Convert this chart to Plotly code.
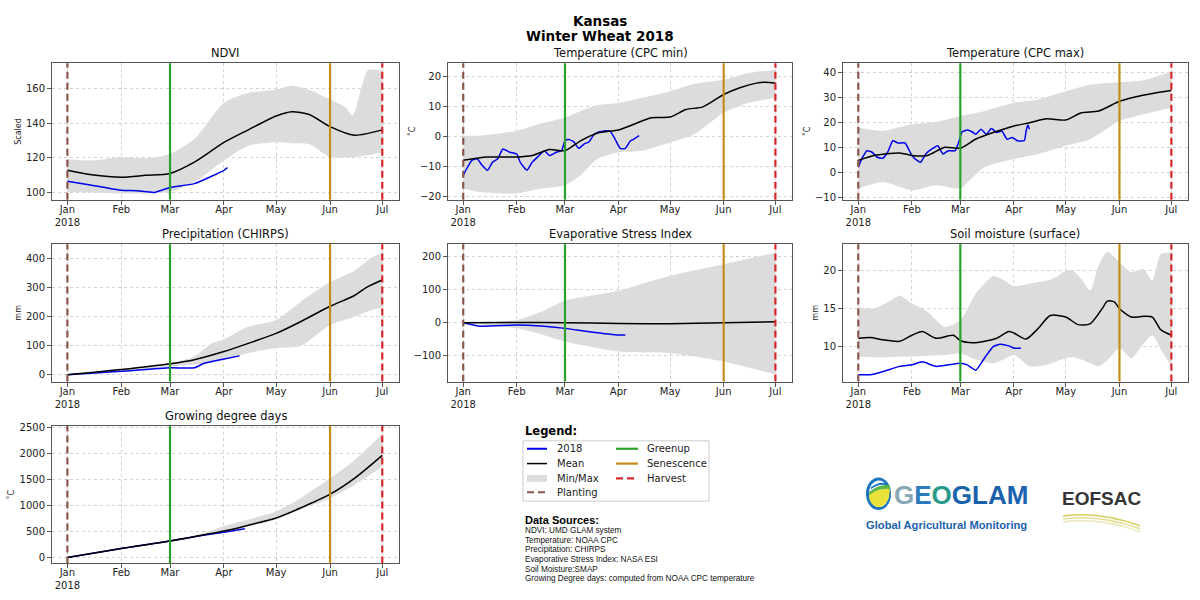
import plotly.graph_objects as go

# ---------------- DATA ----------------
YEAR = "2018-"
month_ticks = ["01-01", "02-01", "03-01", "04-01", "05-01", "06-01", "07-01"]
month_labels = ["Jan<br>2018", "Feb", "Mar", "Apr", "May", "Jun", "Jul"]

planting_date = "01-01"
greenup_date = "03-01"
senescence_date = "06-01"
harvest_date = "07-01"

# NDVI
ndvi_band_dates = ["01-01", "01-15", "02-01", "02-15", "03-01", "03-15", "04-01", "04-15", "05-01", "05-10", "05-20", "06-01", "06-10", "06-14", "06-23", "07-01"]
ndvi_max = [119.4, 118.5, 120.4, 119.8, 122.3, 130.9, 151.8, 157.5, 159.4, 161.7, 159.4, 153.7, 149.0, 144.5, 170.9, 169.9]
ndvi_min = [100.4, 100.0, 99.4, 99.4, 100.4, 106.0, 118.5, 127.0, 129.0, 128.5, 128.0, 120.4, 120.4, 120.4, 121.5, 123.2]
ndvi_mean_dates = ["01-01", "01-15", "02-01", "02-15", "03-01", "03-15", "04-01", "04-15", "05-01", "05-10", "05-20", "06-01", "06-15", "07-01"]
ndvi_mean = [112.8, 110.2, 108.8, 109.9, 111.0, 117.5, 128.9, 136.2, 144.2, 146.7, 145.1, 138.1, 133.1, 136.2]
ndvi_2018_dates = ["01-01", "01-15", "02-01", "02-10", "02-20", "03-01", "03-15", "04-01", "04-03"]
ndvi_2018 = [106.5, 104.2, 101.3, 101.0, 100.0, 102.9, 105.1, 112.8, 114.3]

# Temperature (CPC min)
tmin_band_dates = ["01-01", "01-10", "02-01", "02-15", "03-01", "03-10", "03-20", "04-01", "04-15", "05-01", "05-15", "06-01", "06-15", "07-01"]
tmin_max = [0.3, 0.3, 1.9, 4.4, 6.3, 8.5, 10.5, 11.2, 12.9, 15.1, 17.6, 18.9, 21.1, 22.2]
tmin_min = [-17.3, -18.4, -18.9, -17.3, -16.2, -12.9, -7.4, -5.2, -4.7, -1.9, 0.8, 7.9, 11.2, 12.9]
tmin_mean_dates = ["01-01", "01-15", "02-01", "02-10", "02-20", "03-01", "03-10", "03-20", "04-01", "04-10", "04-20", "05-01", "05-10", "05-20", "06-01", "06-10", "06-20", "06-25", "07-01"]
tmin_mean = [-7.9, -6.8, -6.8, -6.3, -4.3, -4.7, -1.4, 1.2, 2.2, 4.1, 6.3, 6.5, 9.0, 9.9, 14.0, 16.2, 17.8, 18.1, 17.8]
tmin_2018_dates = ["01-01", "01-03", "01-06", "01-09", "01-12", "01-15", "01-18", "01-21", "01-24", "01-28", "02-01", "02-03", "02-07", "02-10", "02-14", "02-17", "02-20", "02-24", "02-27", "03-01", "03-03", "03-06", "03-09", "03-12", "03-15", "03-18", "03-21", "03-24", "03-27", "03-30", "04-02", "04-05", "04-08", "04-10", "04-13"]
tmin_2018 = [-12.9, -10.7, -7.9, -7.4, -9.6, -11.2, -8.5, -7.4, -4.1, -5.2, -5.8, -8.5, -11.2, -8.5, -6.3, -4.7, -6.3, -5.2, -4.7, -1.4, -1.0, -1.7, -3.9, -2.5, -1.7, 0.8, 1.6, 1.9, 1.9, -0.8, -3.9, -3.9, -1.4, -0.8, 0.3]

# Temperature (CPC max)
tmax_band_dates = ["01-01", "01-15", "02-01", "02-15", "03-01", "03-08", "03-15", "04-01", "04-15", "05-01", "05-15", "06-01", "06-15", "07-01"]
tmax_max = [18.0, 16.7, 19.3, 20.2, 22.6, 23.5, 24.6, 27.9, 29.2, 32.5, 35.1, 36.1, 36.9, 40.4]
tmax_min = [-6.5, -3.8, -7.1, -5.1, -6.4, -2.0, 2.1, 5.4, 7.4, 10.7, 13.3, 20.6, 23.3, 25.9]
tmax_mean_dates = ["01-01", "01-10", "01-25", "02-01", "02-10", "02-20", "03-01", "03-10", "03-20", "04-01", "04-10", "04-20", "05-01", "05-10", "05-20", "06-01", "06-10", "06-20", "07-01"]
tmax_mean = [4.8, 6.8, 7.8, 6.8, 6.8, 10.1, 9.7, 13.4, 16.0, 18.6, 19.9, 21.5, 21.0, 23.9, 24.6, 28.5, 30.2, 31.6, 32.8]
tmax_2018_dates = ["01-01", "01-03", "01-06", "01-09", "01-12", "01-15", "01-18", "01-21", "01-24", "01-28", "02-01", "02-04", "02-06", "02-09", "02-13", "02-16", "02-19", "02-22", "02-26", "02-28", "03-02", "03-05", "03-08", "03-10", "03-13", "03-16", "03-19", "03-22", "03-25", "03-28", "03-31", "04-03", "04-07", "04-08", "04-09", "04-10"]
tmax_2018 = [2.1, 5.4, 8.7, 8.1, 6.1, 5.7, 8.1, 12.7, 11.8, 11.8, 6.8, 4.8, 4.1, 7.4, 9.6, 10.7, 7.4, 8.7, 8.7, 12.0, 16.2, 17.0, 16.2, 15.3, 17.3, 15.3, 17.6, 16.0, 16.6, 13.3, 14.0, 12.7, 12.8, 16.5, 19.0, 17.3]

# Precipitation (CHIRPS)
prcp_band_dates = ["01-01", "02-01", "03-01", "03-15", "03-25", "04-01", "04-15", "05-01", "05-15", "06-01", "06-15", "06-25", "07-01"]
prcp_max = [0, 20, 40, 63, 108, 122, 165, 188, 250, 318, 357, 402, 419]
prcp_min = [0, 12, 28, 35, 45, 52, 75, 92, 99, 171, 199, 222, 230]
prcp_mean_dates = ["01-01", "02-01", "03-01", "03-15", "04-01", "04-15", "05-01", "05-15", "06-01", "06-15", "06-22", "07-01"]
prcp_mean = [0, 18, 38, 52, 80, 108, 142, 182, 235, 272, 300, 325]
prcp_2018_dates = ["01-01", "02-01", "03-01", "03-15", "03-20", "04-01", "04-10"]
prcp_2018 = [0, 12, 24, 24, 38, 54, 65]

# Evaporative Stress Index
esi_band_dates = ["01-01", "02-01", "02-15", "03-01", "04-01", "05-01", "06-01", "07-01"]
esi_max = [0, 8, 33, 67, 97, 142, 177, 212]
esi_min = [0, -17, -35, -57, -87, -92, -117, -157]
esi_mean_dates = ["01-01", "02-01", "03-01", "04-01", "05-01", "06-01", "07-01"]
esi_mean = [0, 1, 0, -2, -3, 0, 3]
esi_2018_dates = ["01-01", "01-10", "02-01", "02-15", "03-01", "03-15", "04-01", "04-05"]
esi_2018 = [0, -10, -7, -10, -17, -27, -37, -37]

# Soil moisture (surface)
soil_band_dates = ["01-01", "01-10", "01-20", "01-25", "02-01", "02-10", "02-20", "03-01", "03-10", "03-20", "03-25", "04-01", "04-10", "04-20", "04-25", "05-01", "05-05", "05-10", "05-15", "05-20", "05-25", "06-01", "06-08", "06-15", "06-20", "06-25", "07-01"]
soil_max = [15.2, 15.0, 16.1, 16.7, 15.7, 14.6, 12.6, 13.5, 17.0, 19.3, 18.9, 18.0, 18.3, 18.7, 19.1, 20.0, 20.0, 18.9, 17.4, 20.7, 22.5, 21.1, 19.8, 20.2, 18.7, 22.2, 22.4]
soil_min = [8.7, 8.6, 8.6, 8.7, 8.7, 8.8, 8.9, 9.1, 8.3, 7.8, 8.2, 8.9, 7.4, 7.6, 8.0, 8.5, 8.6, 8.3, 7.8, 7.4, 8.2, 9.8, 8.5, 10.4, 11.5, 9.6, 7.4]
soil_mean_dates = ["01-01", "01-08", "01-15", "01-25", "02-01", "02-07", "02-15", "02-25", "03-01", "03-08", "03-15", "03-22", "03-29", "04-01", "04-08", "04-15", "04-22", "05-01", "05-08", "05-15", "05-22", "05-25", "05-29", "06-01", "06-08", "06-15", "06-20", "06-25", "07-01"]
soil_mean = [11.1, 11.2, 10.9, 10.7, 11.5, 12.0, 11.1, 11.5, 10.8, 10.5, 10.7, 11.1, 12.0, 11.8, 11.0, 12.4, 14.1, 13.9, 12.9, 13.0, 15.0, 16.0, 15.9, 15.0, 13.9, 14.0, 13.9, 12.2, 11.5]
soil_2018_dates = ["01-01", "01-08", "01-15", "01-25", "02-01", "02-07", "02-15", "02-22", "03-01", "03-05", "03-10", "03-15", "03-20", "03-24", "03-29", "04-01", "04-05"]
soil_2018 = [6.3, 6.3, 6.7, 7.4, 7.6, 8.0, 7.4, 7.6, 7.8, 7.6, 6.9, 8.5, 10.0, 10.3, 10.1, 9.8, 9.8]

# Growing degree days
gdd_band_dates = ["01-01", "02-01", "03-01", "03-15", "04-01", "04-15", "05-01", "05-15", "06-01", "06-15", "07-01"]
gdd_max = [0, 180, 330, 420, 604, 732, 891, 1145, 1527, 1877, 2385]
gdd_min = [0, 165, 305, 390, 477, 600, 732, 930, 1145, 1400, 1750]
gdd_mean_dates = ["01-01", "02-01", "03-01", "04-01", "04-15", "05-01", "05-15", "06-01", "06-15", "07-01"]
gdd_mean = [0, 172, 318, 509, 623, 763, 954, 1221, 1527, 1972]
gdd_2018_dates = ["01-01", "02-01", "03-01", "03-20", "04-01", "04-13"]
gdd_2018 = [0, 172, 318, 428, 488, 556]

legend_col1 = ["2018", "Mean", "Min/Max", "Planting"]
legend_col2 = ["Greenup", "Senescence", "Harvest"]
source_lines = [
    "NDVI: UMD GLAM system",
    "Temperature: NOAA CPC",
    "Precipitation: CHIRPS",
    "Evaporative Stress Index: NASA ESI",
    "Soil Moisture:SMAP",
    "Growing Degree days: computed from NOAA CPC temperature",
]

# ---------------- STYLE ----------------
W, H = 1200, 600
FONT = "DejaVu Sans"
C_2018 = "#0000ee"
C_MEAN = "#000000"
C_BAND = "#dcdcdc"
C_PLANT = "#8c564b"
C_GREEN = "#2ca02c"
C_SEN = "#c48b17"
C_HARV = "#d62728"
DASH = "7px,4px"


def d(lst):
    return [YEAR + s for s in lst]


def px(x):
    return x / W


def py(y):
    return 1 - y / H


cols = [(52, 399), (448, 792), (843, 1188)]
rows = [(60, 198), (243, 382), (427, 566)]

panels = [
    dict(title="NDVI", ylab="Scaled", rng=[95.8, 174.7], dt=20, pos=(0, 0),
         bd=ndvi_band_dates, hi=ndvi_max, lo=ndvi_min, md=ndvi_mean_dates, mv=ndvi_mean, cd=ndvi_2018_dates, cv=ndvi_2018),
    dict(title="Temperature (CPC min)", ylab="˚C", rng=[-21, 24.4], dt=10, pos=(0, 1),
         bd=tmin_band_dates, hi=tmin_max, lo=tmin_min, md=tmin_mean_dates, mv=tmin_mean, cd=tmin_2018_dates, cv=tmin_2018),
    dict(title="Temperature (CPC max)", ylab="˚C", rng=[-10.9, 43.7], dt=10, pos=(0, 2),
         bd=tmax_band_dates, hi=tmax_max, lo=tmax_min, md=tmax_mean_dates, mv=tmax_mean, cd=tmax_2018_dates, cv=tmax_2018),
    dict(title="Precipitation (CHIRPS)", ylab="mm", rng=[-23, 448], dt=100, pos=(1, 0),
         bd=prcp_band_dates, hi=prcp_max, lo=prcp_min, md=prcp_mean_dates, mv=prcp_mean, cd=prcp_2018_dates, cv=prcp_2018),
    dict(title="Evaporative Stress Index", ylab="", rng=[-178, 238], dt=100, pos=(1, 1),
         bd=esi_band_dates, hi=esi_max, lo=esi_min, md=esi_mean_dates, mv=esi_mean, cd=esi_2018_dates, cv=esi_2018),
    dict(title="Soil moisture (surface)", ylab="mm", rng=[5.4, 23.5], dt=5, pos=(1, 2),
         bd=soil_band_dates, hi=soil_max, lo=soil_min, md=soil_mean_dates, mv=soil_mean, cd=soil_2018_dates, cv=soil_2018),
    dict(title="Growing degree days", ylab="˚C", rng=[-115, 2538], dt=500, pos=(2, 0),
         bd=gdd_band_dates, hi=gdd_max, lo=gdd_min, md=gdd_mean_dates, mv=gdd_mean, cd=gdd_2018_dates, cv=gdd_2018),
]

fig = go.Figure()
shapes = []
annotations = []
layout_axes = {}

for i, p in enumerate(panels):
    n = "" if i == 0 else str(i + 1)
    xa, ya = "x" + n, "y" + n
    r, c = p["pos"]
    x0, x1 = cols[c]
    y0, y1 = rows[r]
    # band
    fig.add_trace(go.Scatter(x=d(p["bd"]), y=p["lo"], mode="lines", line=dict(width=0, shape="spline", smoothing=0.7),
                             xaxis=xa, yaxis=ya, showlegend=False, hoverinfo="skip"))
    fig.add_trace(go.Scatter(x=d(p["bd"]), y=p["hi"], mode="lines", line=dict(width=0, shape="spline", smoothing=0.7),
                             fill="tonexty", fillcolor=C_BAND, xaxis=xa, yaxis=ya, showlegend=False, hoverinfo="skip"))
    # current season
    fig.add_trace(go.Scatter(x=d(p["cd"]), y=p["cv"], mode="lines", line=dict(color=C_2018, width=1.5, shape="spline", smoothing=0.5),
                             xaxis=xa, yaxis=ya, showlegend=False, name="2018"))
    # mean
    fig.add_trace(go.Scatter(x=d(p["md"]), y=p["mv"], mode="lines", line=dict(color=C_MEAN, width=1.5, shape="spline", smoothing=0.7),
                             xaxis=xa, yaxis=ya, showlegend=False, name="Mean"))
    # phenology lines
    for dt_, col, dash in [(planting_date, C_PLANT, DASH), (greenup_date, C_GREEN, "solid"),
                           (senescence_date, C_SEN, "solid"), (harvest_date, C_HARV, DASH)]:
        shapes.append(dict(type="line", xref=xa, yref=ya + " domain", x0=YEAR + dt_, x1=YEAR + dt_, y0=0, y1=1,
                           line=dict(color=col, width=2.2, dash=dash), layer="above"))
    layout_axes["xaxis" + n] = dict(
        domain=[px(x0), px(x1)], anchor=ya, type="date",
        range=["2017-12-23 04:00", "2018-07-10 15:00"],
        tickvals=d(month_ticks), ticktext=month_labels,
        showgrid=True, gridcolor="#d2d2d2", griddash="dot", gridwidth=1,
        showline=True, mirror=True, linecolor="#555555", linewidth=1,
        ticks="outside", ticklen=4, tickcolor="#555555", ticklabelstandoff=-4,
        tickfont=dict(family=FONT, size=10, color="#222222"), zeroline=False,
    )
    layout_axes["yaxis" + n] = dict(
        domain=[py(y1), py(y0)], anchor=xa, range=p["rng"], dtick=p["dt"], tick0=0,
        showgrid=True, gridcolor="#d2d2d2", griddash="dot", gridwidth=1,
        showline=True, mirror=True, linecolor="#555555", linewidth=1,
        ticks="outside", ticklen=4, tickcolor="#555555",
        tickfont=dict(family=FONT, size=10, color="#222222"), zeroline=False,
        title=dict(text=p["ylab"], font=dict(family=FONT, size=8, color="#222222"), standoff=3),
    )
    annotations.append(dict(text=p["title"], xref="paper", yref="paper", x=px((x0 + x1) / 2), y=py(y0),
                            xanchor="center", yanchor="bottom", yshift=1, showarrow=False,
                            font=dict(family=FONT, size=11.5, color="#111111")))

# main title
annotations.append(dict(text="<b>Kansas</b>", xref="paper", yref="paper", x=px(600), y=py(17), xanchor="center",
                        yanchor="middle", showarrow=False, font=dict(family=FONT, size=13.5, color="#000")))
annotations.append(dict(text="<b>Winter Wheat 2018</b>", xref="paper", yref="paper", x=px(600), y=py(32),
                        xanchor="center", yanchor="middle", showarrow=False, font=dict(family=FONT, size=13.5, color="#000")))

# legend (drawn manually to reproduce two-column box)
annotations.append(dict(text="<b>Legend:</b>", xref="paper", yref="paper", x=px(523), y=py(432), xanchor="left",
                        yanchor="middle", showarrow=False, font=dict(family=FONT, size=11.5, color="#000")))
shapes.append(dict(type="rect", xref="paper", yref="paper", x0=px(523), x1=px(709), y0=py(442), y1=py(503),
                   line=dict(color="#cccccc", width=1), fillcolor="rgba(255,255,255,0)"))
row_y = [450, 465, 480, 494]
col1_styles = [(C_2018, "solid", 2), (C_MEAN, "solid", 1.5), None, (C_PLANT, DASH, 2.2)]
for k, lab in enumerate(legend_col1):
    yy = row_y[k]
    st = col1_styles[k]
    if st is None:
        shapes.append(dict(type="rect", xref="paper", yref="paper", x0=px(527), x1=px(547), y0=py(yy + 3.5), y1=py(yy - 3.5),
                           line=dict(width=0), fillcolor=C_BAND))
    else:
        shapes.append(dict(type="line", xref="paper", yref="paper", x0=px(527), x1=px(547), y0=py(yy), y1=py(yy),
                           line=dict(color=st[0], dash=st[1], width=st[2])))
    annotations.append(dict(text=lab, xref="paper", yref="paper", x=px(555), y=py(yy), xanchor="left", yanchor="middle",
                            showarrow=False, font=dict(family=FONT, size=10, color="#222")))
col2_styles = [(C_GREEN, "solid"), (C_SEN, "solid"), (C_HARV, DASH)]
for k, lab in enumerate(legend_col2):
    yy = row_y[k]
    shapes.append(dict(type="line", xref="paper", yref="paper", x0=px(616), x1=px(638), y0=py(yy), y1=py(yy),
                       line=dict(color=col2_styles[k][0], dash=col2_styles[k][1], width=2.2)))
    annotations.append(dict(text=lab, xref="paper", yref="paper", x=px(645), y=py(yy), xanchor="left", yanchor="middle",
                            showarrow=False, font=dict(family=FONT, size=10, color="#222")))

# data sources
SRC_FONT = "Liberation Sans, Arial, sans-serif"
annotations.append(dict(text="<b>Data Sources:</b>", xref="paper", yref="paper", x=px(523), y=py(522), xanchor="left",
                        yanchor="middle", showarrow=False, font=dict(family=SRC_FONT, size=11, color="#000")))
for k, line in enumerate(source_lines):
    annotations.append(dict(text=line, xref="paper", yref="paper", x=px(523), y=py(533 + k * 9.7), xanchor="left",
                            yanchor="middle", showarrow=False, font=dict(family=SRC_FONT, size=8.2, color="#111")))

# logos (approximated with shapes + text)
LOGO_FONT = "Liberation Sans, Arial, sans-serif"
shapes.append(dict(type="circle", xref="paper", yref="paper", x0=px(866), x1=px(891), y0=py(512), y1=py(479),
                   fillcolor="#1a75bc", line=dict(width=0)))
shapes.append(dict(type="circle", xref="paper", yref="paper", x0=px(869), x1=px(889), y0=py(509), y1=py(482),
                   fillcolor="#ffffff", line=dict(width=0)))


def pth(points):
    s = ""
    for cmd, pts in points:
        s += cmd + " " + " ".join(f"{px(a):.5f},{py(b):.5f}" for a, b in pts) + " "
    return s + "Z"


shapes.append(dict(type="path", xref="paper", yref="paper",
                   path=pth([("M", [(869, 497)]), ("Q", [(880, 489), (890, 491)]), ("L", [(889, 499)]),
                             ("Q", [(885, 510), (877, 509)]), ("Q", [(869, 506), (869, 497)])]),
                   fillcolor="#e9e23b", line=dict(width=0)))
shapes.append(dict(type="path", xref="paper", yref="paper",
                   path=pth([("M", [(869, 494)]), ("Q", [(879, 485), (890, 487)]), ("L", [(890, 491)]),
                             ("Q", [(880, 489), (869, 497)])]),
                   fillcolor="#5cb547", line=dict(width=0)))
shapes.append(dict(type="path", xref="paper", yref="paper",
                   path=pth([("M", [(871, 489)]), ("Q", [(879, 483), (887, 485)]), ("L", [(887, 487)]),
                             ("Q", [(879, 485), (871, 491)])]),
                   fillcolor="#1a75bc", line=dict(width=0)))
annotations.append(dict(
    text="<b><span style='color:#8aa7b6'>G</span><span style='color:#2b7bbd'>E</span>"
         "<span style='color:#2a9a8a'>O</span><span style='color:#1b62ad'>GLAM</span></b>",
    xref="paper", yref="paper", x=px(892), y=py(497), xanchor="left", yanchor="middle", showarrow=False,
    font=dict(family=LOGO_FONT, size=26, color="#1b62ad")))
annotations.append(dict(text="<b>Global Agricultural Monitoring</b>", xref="paper", yref="paper", x=px(946), y=py(527),
                        xanchor="center", yanchor="middle", showarrow=False,
                        font=dict(family=LOGO_FONT, size=11.2, color="#1b62ad")))
annotations.append(dict(text="<b>EOFSAC</b>", xref="paper", yref="paper", x=px(1101), y=py(500), xanchor="center",
                        yanchor="middle", showarrow=False, font=dict(family=LOGO_FONT, size=19, color="#353535")))
for k, colr in enumerate(["#d6cf62", "#e4df96", "#eeeac0"]):
    shapes.append(dict(type="path", xref="paper", yref="paper",
                       path=f"M {px(1063):.5f},{py(518 + k * 3):.5f} Q {px(1100):.5f},{py(513 + k * 3):.5f} {px(1140):.5f},{py(528 + k * 3):.5f}",
                       line=dict(color=colr, width=1.6)))

fig.update_layout(
    width=W, height=H, margin=dict(l=0, r=0, t=0, b=0),
    paper_bgcolor="white", plot_bgcolor="white", showlegend=False,
    shapes=shapes, annotations=annotations, font=dict(family=FONT),
    **layout_axes,
)

fig.write_html("out.html")
